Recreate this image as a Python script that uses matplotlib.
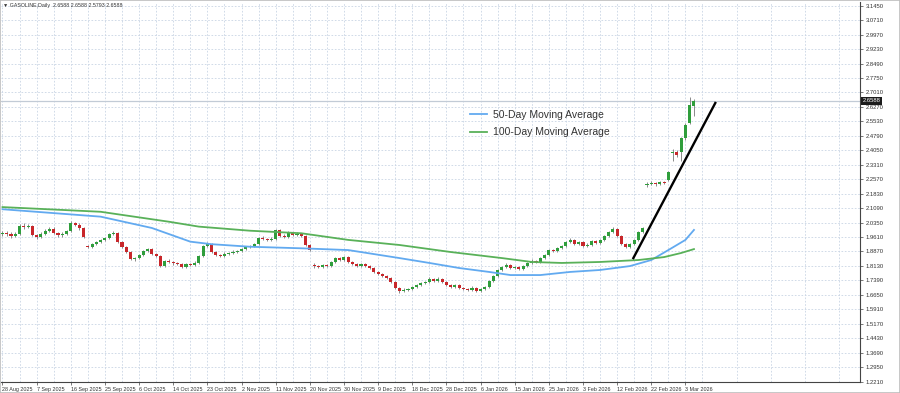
import matplotlib
matplotlib.use("Agg")
import matplotlib.pyplot as plt
from matplotlib.patches import Rectangle

# ---------------- data ----------------
opens = [1.976,1.981,1.976,1.966,1.976,2.017,2.012,2.017,1.971,1.961,
         1.976,1.992,2.002,1.981,1.971,1.976,1.992,2.033,2.022,2.007,
         1.915,1.910,1.925,1.935,1.946,1.956,1.976,1.981,1.935,1.910,
         1.884,1.848,1.853,1.869,1.889,1.899,1.874,1.864,1.812,1.838,
         1.833,1.828,1.823,1.807,1.823,1.818,1.828,1.864,1.915,1.925,
         1.884,1.869,1.864,1.874,1.879,1.884,1.889,1.899,1.910,1.915,
         1.925,1.956,1.951,1.946,1.951,1.997,1.966,1.961,1.981,1.971,
         1.976,1.966,1.920,1.820,1.812,1.807,1.818,1.812,1.833,1.853,
         1.843,1.858,1.833,1.823,1.812,1.823,1.812,1.802,1.782,1.771,
         1.761,1.751,1.730,1.700,1.684,1.690,1.695,1.705,1.715,1.725,
         1.730,1.746,1.736,1.746,1.730,1.715,1.705,1.715,1.700,1.695,
         1.690,1.700,1.684,1.695,1.705,1.736,1.761,1.792,1.807,1.818,
         1.802,1.807,1.797,1.812,1.828,1.838,1.833,1.853,1.869,1.894,
         1.889,1.905,1.915,1.935,1.946,1.925,1.935,1.915,1.920,1.940,
         1.930,1.946,1.966,1.987,2.002,1.966,1.925,1.910,1.925,1.946,
         1.987,2.225,2.232,2.237,2.232,2.243,2.253,2.393,2.398,2.396,
         2.468,2.544,2.632]
closes = [1.981,1.976,1.966,1.976,2.017,2.012,2.017,1.971,1.961,1.976,
          1.992,2.002,1.981,1.971,1.976,1.992,2.033,2.022,2.007,1.961,
          1.910,1.925,1.935,1.946,1.956,1.976,1.981,1.935,1.910,1.884,
          1.848,1.853,1.869,1.889,1.899,1.874,1.864,1.812,1.838,1.833,
          1.828,1.823,1.807,1.823,1.818,1.828,1.864,1.915,1.925,1.884,
          1.869,1.864,1.874,1.879,1.884,1.889,1.899,1.910,1.915,1.925,
          1.956,1.951,1.946,1.951,1.997,1.966,1.961,1.981,1.971,1.976,
          1.966,1.920,1.894,1.812,1.807,1.818,1.812,1.833,1.853,1.843,
          1.858,1.833,1.823,1.812,1.823,1.812,1.802,1.782,1.771,1.761,
          1.751,1.730,1.700,1.684,1.690,1.695,1.705,1.715,1.725,1.730,
          1.746,1.736,1.746,1.730,1.715,1.705,1.715,1.700,1.695,1.690,
          1.700,1.684,1.695,1.705,1.736,1.761,1.792,1.807,1.818,1.802,
          1.807,1.797,1.812,1.828,1.838,1.833,1.853,1.869,1.894,1.889,
          1.905,1.915,1.935,1.946,1.925,1.935,1.915,1.920,1.940,1.930,
          1.946,1.966,1.987,2.002,1.966,1.925,1.910,1.925,1.946,1.987,
          2.007,2.232,2.237,2.232,2.243,2.237,2.294,2.398,2.381,2.468,
          2.534,2.637,2.6588]
highs = [1.992,1.990,1.985,1.984,2.026,2.030,2.027,2.022,1.978,1.984,
         2.000,2.012,2.010,1.988,1.985,1.998,2.042,2.040,2.030,2.012,
         1.922,1.932,1.942,1.952,1.962,1.982,1.992,1.986,1.940,1.915,
         1.890,1.860,1.876,1.894,1.906,1.904,1.880,1.868,1.844,1.846,
         1.840,1.834,1.830,1.830,1.828,1.836,1.870,1.922,1.934,1.930,
         1.890,1.876,1.882,1.886,1.892,1.896,1.906,1.916,1.922,1.932,
         1.962,1.964,1.958,1.960,2.004,2.002,1.974,1.990,1.988,1.984,
         1.982,1.970,1.926,1.826,1.818,1.824,1.824,1.840,1.860,1.858,
         1.866,1.862,1.838,1.828,1.830,1.828,1.818,1.806,1.788,1.776,
         1.766,1.756,1.736,1.706,1.698,1.702,1.712,1.722,1.732,1.738,
         1.754,1.752,1.754,1.750,1.736,1.720,1.722,1.720,1.706,1.700,
         1.708,1.706,1.702,1.712,1.742,1.768,1.798,1.814,1.826,1.824,
         1.814,1.812,1.818,1.834,1.846,1.844,1.860,1.876,1.900,1.900,
         1.912,1.922,1.942,1.954,1.950,1.942,1.940,1.928,1.946,1.946,
         1.952,1.972,1.994,2.010,2.008,1.970,1.930,1.932,1.952,1.992,
         2.014,2.240,2.246,2.244,2.250,2.250,2.300,2.410,2.404,2.474,
         2.545,2.678,2.668]
lows = [1.966,1.968,1.958,1.960,1.972,2.004,2.006,1.964,1.950,1.955,
        1.970,1.986,1.975,1.963,1.962,1.970,1.988,2.015,1.998,1.955,
        1.902,1.904,1.920,1.930,1.940,1.950,1.970,1.930,1.904,1.878,
        1.842,1.840,1.848,1.864,1.884,1.868,1.856,1.806,1.808,1.826,
        1.820,1.815,1.800,1.802,1.810,1.812,1.824,1.860,1.910,1.878,
        1.862,1.856,1.858,1.868,1.872,1.878,1.884,1.894,1.904,1.910,
        1.920,1.944,1.940,1.940,1.946,1.960,1.954,1.956,1.964,1.966,
        1.960,1.914,1.888,1.804,1.800,1.802,1.806,1.808,1.828,1.836,
        1.838,1.826,1.816,1.806,1.806,1.806,1.796,1.776,1.764,1.754,
        1.744,1.724,1.694,1.676,1.678,1.684,1.690,1.700,1.710,1.720,
        1.726,1.730,1.730,1.724,1.708,1.698,1.700,1.694,1.688,1.682,
        1.684,1.678,1.678,1.690,1.700,1.730,1.756,1.786,1.800,1.796,
        1.796,1.790,1.792,1.806,1.822,1.826,1.828,1.848,1.864,1.882,
        1.884,1.898,1.910,1.928,1.918,1.920,1.908,1.908,1.914,1.924,
        1.924,1.940,1.960,1.980,1.960,1.918,1.902,1.904,1.920,1.940,
        1.980,2.218,2.226,2.224,2.226,2.230,2.248,2.352,2.372,2.350,
        2.460,2.540,2.579]

# moving averages sampled at bar indices
ma50_idx = [0, 23, 35, 44, 49, 58, 70, 81, 93, 100, 107, 114, 119, 126, 133, 140, 147, 152, 156, 160, 162]
ma50_val = [2.103, 2.065, 2.007, 1.937, 1.924, 1.911, 1.903, 1.894, 1.853, 1.828, 1.802,
            1.782, 1.766, 1.766, 1.782, 1.792, 1.812, 1.843, 1.894, 1.946, 1.997]
ma100_idx = [0, 23, 39, 46, 58, 70, 81, 93, 105, 117, 124, 131, 140, 149, 155, 159, 162]
ma100_val = [2.114, 2.090, 2.039, 2.014, 1.993, 1.980, 1.946, 1.920, 1.884, 1.853, 1.833,
             1.828, 1.833, 1.843, 1.858, 1.879, 1.899]

# trend line (bar index, price)
trend_idx = [147.8, 167.0]
trend_val = [1.853, 2.647]

date_labels = ["28 Aug 2025", "7 Sep 2025", "16 Sep 2025", "25 Sep 2025", "6 Oct 2025",
               "14 Oct 2025", "23 Oct 2025", "2 Nov 2025", "11 Nov 2025", "20 Nov 2025",
               "30 Nov 2025", "9 Dec 2025", "18 Dec 2025", "28 Dec 2025", "6 Jan 2026",
               "15 Jan 2026", "25 Jan 2026", "3 Feb 2026", "12 Feb 2026", "22 Feb 2026",
               "3 Mar 2026"]
price_labels = ["1.2210", "1.2950", "1.3690", "1.4430", "1.5170", "1.5910", "1.6650",
                "1.7390", "1.8130", "1.8870", "1.9610", "2.0350", "2.1090", "2.1830",
                "2.2570", "2.3310", "2.4050", "2.4790", "2.5530", "2.6270", "2.7010",
                "2.7750", "2.8490", "2.9230", "2.9970", "3.0710", "3.1450"]
current_price = 2.6588
header = "GASOLINE,Daily  2.6588 2.6588 2.5793 2.6588"

# ---------------- figure ----------------
W, H = 900, 393
fig = plt.figure(figsize=(W / 100, H / 100), dpi=100)
fig.patch.set_facecolor("white")
ax = fig.add_axes([1 / W, 1 - 382 / H, 859 / W, 380 / H])
ax.set_facecolor("white")

n = len(closes)
xs = list(range(n))
ax.set_xlim(-0.35, 200.9)
ax.set_ylim(1.2185, 3.164)

# grid
grid_color = "#c9d5e4"
ax.set_yticks([float(v) for v in price_labels])
ax.set_yticklabels(price_labels)
major_x = list(range(0, 8 * len(date_labels), 8))
ax.set_xticks(major_x)
ax.set_xticklabels(date_labels)
ax.set_xticks(list(range(4, 201, 8)), minor=True)
ax.grid(True, which="both", color=grid_color, linestyle=(0, (2, 2)), linewidth=0.6)
ax.set_axisbelow(True)

# current price line
ax.axhline(current_price, color="#c2cbd6", linewidth=0.9, zorder=1)

# candles
bull = "#2f9e3c"
bear = "#c8272b"
wick = "#8a8a8a"
ax.vlines(xs, lows, highs, color=wick, linewidth=0.7, zorder=2)
bodies_h = []
bodies_b = []
cols = []
for o, c in zip(opens, closes):
    h = c - o
    if abs(h) < 0.004:
        h = 0.004 if h >= 0 else -0.004
    bodies_h.append(h)
    bodies_b.append(o)
    cols.append(bull if c >= o else bear)
ax.bar(xs, bodies_h, bottom=bodies_b, width=0.72, color=cols, linewidth=0, zorder=3)

# moving averages
l50, = ax.plot(ma50_idx, ma50_val, color="#62aaf0", linewidth=1.3, zorder=4,
               label="50-Day Moving Average")
l100, = ax.plot(ma100_idx, ma100_val, color="#59b159", linewidth=1.3, zorder=4,
                label="100-Day Moving Average")

# trend line
ax.plot(trend_idx, trend_val, color="black", linewidth=1.7, zorder=5)

leg = ax.legend(handles=[l50, l100], loc="upper left", bbox_to_anchor=(0.546, 0.717),
                frameon=False, prop={"family": "Liberation Sans", "size": 7.5},
                handlelength=1.6, handletextpad=0.6, labelspacing=0.75,
                borderpad=0, borderaxespad=0)
for t in leg.get_texts():
    t.set_color("#333333")

# axes styling
for s in ["top", "left"]:
    ax.spines[s].set_visible(False)
ax.spines["right"].set_color("#444444")
ax.spines["right"].set_linewidth(0.8)
ax.spines["bottom"].set_color("#444444")
ax.spines["bottom"].set_linewidth(0.8)
ax.yaxis.tick_right()
ax.tick_params(axis="y", which="major", length=2, width=0.5, pad=2,
               labelsize=4.2, colors="#444444", labelcolor="#333333")
ax.tick_params(axis="x", which="major", length=2.5, width=0.5, pad=1,
               labelsize=3.9, colors="#444444", labelcolor="#333333")
ax.tick_params(axis="x", which="minor", length=0)
for lab in ax.get_xticklabels():
    lab.set_horizontalalignment("left")
    lab.set_fontfamily("Liberation Sans")
for lab in ax.get_yticklabels():
    lab.set_fontfamily("Liberation Sans")

# price box
ax.text(1.003, current_price, f"{current_price:.4f}", transform=ax.get_yaxis_transform(),
        ha="left", va="center", fontsize=4.2, color="white", family="Liberation Sans",
        bbox=dict(boxstyle="square,pad=0.25", facecolor="#1c1c1c", edgecolor="none"),
        zorder=10, clip_on=False)

# header
fig.text(3 / W, 1 - 6 / H, "\u25bc " + header, ha="left", va="center", fontsize=3.8,
         color="#333333", family=["Liberation Sans", "DejaVu Sans"])

# outer border
fig.patches.append(Rectangle((0, 0), 1, 1, transform=fig.transFigure, fill=False,
                             edgecolor="#bdbdbd", linewidth=1.2))

fig.savefig("out.png", dpi=100, facecolor="white")
